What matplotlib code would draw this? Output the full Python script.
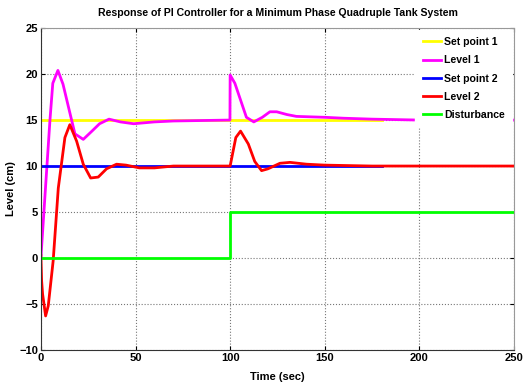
import matplotlib.pyplot as plt
import numpy as np

plt.rcParams['font.family'] = ['Liberation Sans', 'DejaVu Sans']
plt.rcParams['font.weight'] = 'bold'

# data
t_sp = [0, 180]
sp1 = [15, 15]
sp2 = [10, 10]

t_l1 = [0, 4.8, 6.3, 9, 11.7, 15.3, 18, 22.4, 27, 31, 36, 42, 49, 60, 70, 85, 99.9,
        100, 102.5, 108.6, 112.5, 117, 121, 124.6, 130, 135, 150, 160, 175, 200, 250]
l1 = [0, 15, 19, 20.4, 18.9, 15.8, 13.5, 12.9, 13.8, 14.6, 15.1, 14.8, 14.6, 14.8, 14.9, 14.95, 15,
      19.9, 19.0, 15.3, 14.8, 15.3, 15.9, 15.9, 15.6, 15.4, 15.3, 15.2, 15.1, 15.0, 15.0]

t_l2 = [0, 0.4, 0.9, 2.5, 3.9, 6.5, 9.2, 12.7, 15.3, 18.9, 22.4, 26.3, 30.3, 34.7, 40, 45, 52, 60,
        70, 100, 103, 105.5, 109.6, 113, 116.6, 120, 126.3, 131.6, 140.4, 150, 175, 250]
l2 = [0.3, -2.5, -3.9, -6.3, -5.2, -0.3, 7.6, 13.1, 14.5, 12.7, 10.2, 8.7, 8.8, 9.7, 10.2, 10.1, 9.8, 9.8,
      10.0, 10.0, 13.1, 13.8, 12.4, 10.5, 9.5, 9.7, 10.3, 10.4, 10.2, 10.1, 10.0, 10.0]

t_d = [0, 100, 100, 250]
dist = [0, 0, 5, 5]

fig = plt.figure(figsize=(5.24, 3.85), dpi=100)
ax = fig.add_axes([0.078, 0.091, 0.903, 0.836])

ax.plot(t_sp, sp1, color='#ffff00', linewidth=2, label='Set point 1')
ax.plot(t_l1, l1, color='#ff00ff', linewidth=2, label='Level 1')
ax.plot(t_sp, sp2, color='#0000ff', linewidth=2, label='Set point 2')
ax.plot(t_l2, l2, color='#ff0000', linewidth=2, label='Level 2')
ax.plot(t_d, dist, color='#00ff00', linewidth=2, label='Disturbance')

ax.set_xlim(0, 250)
ax.set_ylim(-10, 25)
ax.set_xticks(np.arange(0, 251, 50))
ax.set_yticks(np.arange(-10, 26, 5))
ax.grid(True, linestyle=':', color='#777777', linewidth=0.8)
ax.tick_params(direction='in', top=True, right=True, labelsize=8, length=3, pad=2)
for lab in ax.get_xticklabels() + ax.get_yticklabels():
    lab.set_fontweight('bold')
for side in ['left', 'bottom']:
    ax.spines[side].set_color('#333333')
for side in ['top', 'right']:
    ax.spines[side].set_color('#999999')

ax.set_xlabel('Time (sec)', fontsize=8, fontweight='bold')
ax.set_ylabel('Level (cm)', fontsize=8, fontweight='bold')
ax.xaxis.set_label_coords(0.5, -0.068)
ax.yaxis.set_label_coords(-0.053, 0.5)
ax.set_title('Response of PI Controller for a Minimum Phase Quadruple Tank System',
             fontsize=7.6, fontweight='bold', pad=9)

leg = ax.legend(loc='upper right', prop={'size': 7.6, 'weight': 'bold'}, frameon=True,
                fancybox=False, handlelength=1.7, handletextpad=0.35, labelspacing=0.78,
                borderaxespad=0.15, borderpad=0.7)
leg.get_frame().set_edgecolor('white')
leg.get_frame().set_alpha(1)

plt.savefig('out.png', dpi=100)
